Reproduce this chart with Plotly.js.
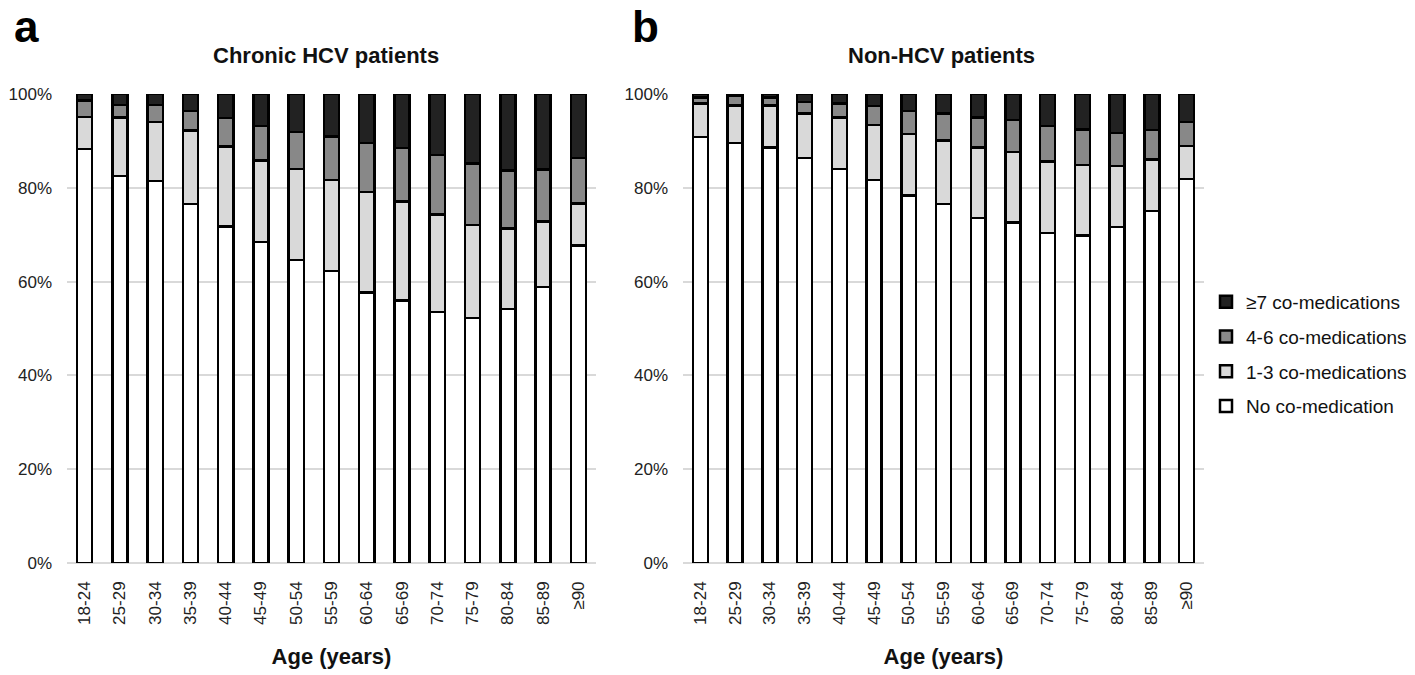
<!DOCTYPE html>
<html>
<head>
<meta charset="utf-8">
<script src="https://cdn.plot.ly/plotly-3.0.1.min.js"></script>
<style>
  html, body { margin: 0; padding: 0; background: #fff; }
  #chart { width: 1415px; height: 675px; }
</style>
</head>
<body>
<div id="chart"></div>
<script>
'use strict'

var ages = ['18-24', '25-29', '30-34', '35-39', '40-44', '45-49', '50-54', '55-59',
            '60-64', '65-69', '70-74', '75-79', '80-84', '85-89', '≥90'];

// panel a: chronic HCV patients (% of patients)
var hcvNone = [88.3, 82.5, 81.5, 76.5, 71.7, 68.5, 64.6, 62.3, 57.7, 56.0, 53.5, 52.2, 54.2, 58.9, 67.7];
var hcv13   = [6.8, 12.5, 12.5, 15.7, 17.1, 17.3, 19.4, 19.4, 21.4, 21.1, 20.8, 19.9, 17.1, 13.9, 9.0];
var hcv46   = [3.5, 2.7, 3.7, 4.2, 6.1, 7.4, 7.9, 9.2, 10.5, 11.4, 12.7, 13.1, 12.4, 11.1, 9.7];
var hcv7    = [1.4, 2.3, 2.3, 3.6, 5.1, 6.8, 8.1, 9.1, 10.4, 11.5, 13.0, 14.8, 16.3, 16.1, 13.6];

// panel b: non-HCV patients
var nonNone = [90.8, 89.6, 88.6, 86.4, 84.0, 81.7, 78.4, 76.6, 73.6, 72.6, 70.4, 69.8, 71.6, 75.1, 81.9];
var non13   = [7.2, 8.0, 8.9, 9.4, 11.0, 11.7, 13.1, 13.5, 15.0, 15.0, 15.2, 15.1, 13.1, 10.9, 7.0];
var non46   = [1.3, 2.0, 1.8, 2.5, 3.0, 4.0, 4.9, 5.8, 6.4, 6.9, 7.6, 7.5, 7.0, 6.3, 5.1];
var non7    = [0.7, 0.4, 0.7, 1.7, 2.0, 2.6, 3.6, 4.1, 5.0, 5.5, 6.8, 7.6, 8.3, 7.7, 6.0];

var groupNames = ['No co-medication', '1-3 co-medications', '4-6 co-medications', '≥7 co-medications'];
var groupColors = ['#ffffff', '#d9d9d9', '#888888', '#222222'];

var FONT = 'Liberation Sans, Arial, sans-serif';

function makeTrace(vals, k, xa, ya, showleg) {
    return {
        type: 'bar',
        x: ages,
        y: vals,
        name: groupNames[k],
        legendgroup: 'g' + k,
        legendrank: 1000 - k,   // top of stack listed first
        showlegend: showleg,
        xaxis: xa,
        yaxis: ya,
        marker: {
            color: groupColors[k],
            line: {color: '#000000', width: 2.5}
        },
        hoverinfo: 'skip'
    }
}

var hcvSets = [hcvNone, hcv13, hcv46, hcv7];
var nonSets = [nonNone, non13, non46, non7];
var data = [];
for (var k = 0; k < 4; k++) {
    data.push(makeTrace(hcvSets[k], k, 'x', 'y', true));
}
for (var k = 0; k < 4; k++) {
    data.push(makeTrace(nonSets[k], k, 'x2', 'y2', false));
}

function xAxis(dom, anchor) {
    return {
        domain: dom,
        anchor: anchor,
        tickangle: -90,
        tickfont: {family: FONT, size: 17, color: '#222'},
        ticks: '',
        ticklabelstandoff: 14,
        showline: false,
        showgrid: false,
        automargin: false,
        fixedrange: true,
        title: {
            text: '<b>Age (years)</b>',
            font: {family: FONT, size: 22, color: '#111'},
            standoff: 24
        }
    }
}

function yAxis(anchor) {
    return {
        domain: [0.1659, 0.8607],
        anchor: anchor,
        range: [0, 100],
        dtick: 20,
        ticksuffix: '%',
        tickfont: {family: FONT, size: 17, color: '#222'},
        ticks: '',
        ticklabelstandoff: 14,
        showgrid: true,
        gridcolor: '#d9d9d9',
        gridwidth: 2,
        zeroline: true,
        zerolinecolor: '#d9d9d9',
        zerolinewidth: 2,
        showline: false,
        automargin: false,
        fixedrange: true
    }
}

var layout = {
    width: 1415,
    height: 675,
    margin: {l: 0, r: 0, t: 0, b: 0},
    paper_bgcolor: '#ffffff',
    plot_bgcolor: '#ffffff',
    barmode: 'stack',
    bargap: 0.57,
    font: {family: FONT, color: '#111'},
    xaxis: xAxis([67 / 1415, 596 / 1415], 'y'),
    yaxis: yAxis('x'),
    xaxis2: xAxis([683 / 1415, 1204 / 1415], 'y2'),
    yaxis2: yAxis('x2'),
    legend: {
        x: 1206 / 1415,
        y: 1 - 354 / 675,
        xanchor: 'left',
        yanchor: 'middle',
        traceorder: 'grouped',
        tracegroupgap: 7,
        font: {family: FONT, size: 19, color: '#111'},
        bgcolor: 'rgba(0,0,0,0)'
    },
    annotations: [
        {text: '<b>Chronic HCV patients</b>', xref: 'paper', yref: 'paper',
         x: 326 / 1415, y: 1 - 56 / 675, xanchor: 'center', yanchor: 'middle',
         showarrow: false, font: {family: FONT, size: 22, color: '#111'}},
        {text: '<b>Non-HCV patients</b>', xref: 'paper', yref: 'paper',
         x: 941 / 1415, y: 1 - 56 / 675, xanchor: 'center', yanchor: 'middle',
         showarrow: false, font: {family: FONT, size: 22, color: '#111'}},
        {text: '<b>a</b>', xref: 'paper', yref: 'paper',
         x: 12 / 1415, y: 1, xanchor: 'left', yanchor: 'top',
         showarrow: false, font: {family: FONT, size: 44, color: '#000'}},
        {text: '<b>b</b>', xref: 'paper', yref: 'paper',
         x: 630 / 1415, y: 1, xanchor: 'left', yanchor: 'top',
         showarrow: false, font: {family: FONT, size: 44, color: '#000'}}
    ]
}

Plotly.newPlot('chart', data, layout, {displayModeBar: false, staticPlot: true});
</script>
</body>
</html>
